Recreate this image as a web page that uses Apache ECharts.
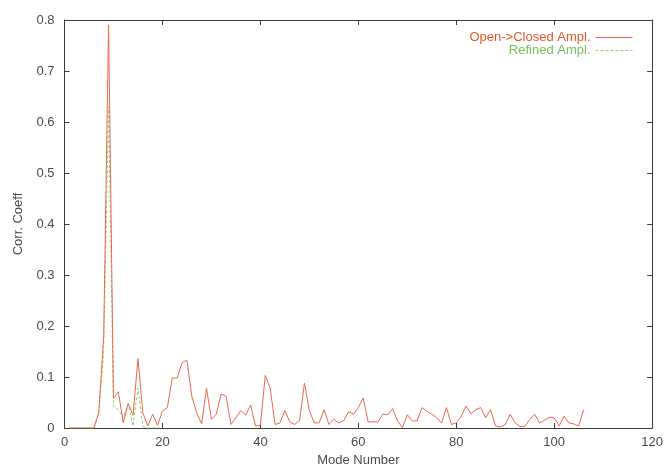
<!DOCTYPE html>
<html>
<head>
<meta charset="utf-8">
<script src="https://cdn.jsdelivr.net/npm/echarts@6/dist/echarts.min.js"></script>
<style>
  html, body { margin: 0; padding: 0; background: #fff; overflow: hidden; }
  #chart { width: 666px; height: 472px; }
</style>
</head>
<body>
<div id="chart"></div>
<script>
// Mode numbers 1..106
const modes = [];
for (let m = 1; m <= 106; m++) modes.push(m);

// Correlation coefficient, open -> closed amplitudes (modes 1..106)
const openClosed = [
  0, 0, 0, 0, 0, 0, 0.03, 0.18, 0.79, 0.058,
  0.071, 0.01, 0.048, 0.025, 0.136, 0.03, 0.004, 0.027, 0.005, 0.033,
  0.04, 0.098, 0.098, 0.128, 0.133, 0.062, 0.03, 0.008, 0.078, 0.017,
  0.027, 0.067, 0.062, 0.007, 0.02, 0.034, 0.025, 0.045, 0.004, 0.005,
  0.103, 0.078, 0.007, 0.01, 0.034, 0.012, 0.007, 0.015, 0.088, 0.034,
  0.01, 0.01, 0.036, 0.007, 0.017, 0.01, 0.014, 0.032, 0.027, 0.04,
  0.059, 0.012, 0.012, 0.012, 0.027, 0.026, 0.038, 0.014, 0.001, 0.026,
  0.014, 0.014, 0.04, 0.033, 0.027, 0.02, 0.01, 0.04, 0.007, 0.01,
  0.023, 0.043, 0.028, 0.036, 0.04, 0.02, 0.036, 0.004, 0.002, 0.007,
  0.027, 0.01, 0.003, 0.003, 0.017, 0.027, 0.01, 0.015, 0.021, 0.02,
  0.004, 0.023, 0.01, 0.008, 0.004, 0.036
];

// Correlation coefficient, refined amplitudes (modes 1..20)
const refined = [
  0, 0, 0, 0, 0, 0, 0.03, 0.15, 0.63, 0.042,
  0.036, 0.02, 0.047, 0.004, 0.078, 0.003, 0, 0, 0, 0
];

const xTicks = [0, 20, 40, 60, 80, 100, 120];
const yTicks = [0, 0.1, 0.2, 0.3, 0.4, 0.5, 0.6, 0.7, 0.8];

const openData = modes.map((m, i) => [m, openClosed[i]]);
const refinedData = refined.map((v, i) => [modes[i], v]);

const axisColor = '#3a3a3a';
const fontFamily = 'Liberation Sans, Arial, sans-serif';
const labelFont = { color: '#4a4a4a', fontSize: 13, fontFamily: fontFamily };

// plain box edge with inward ticks (top and right mirrors)
function mirrorAxis(extra) {
  return Object.assign({
    type: 'value',
    axisLine: { show: true, onZero: false, lineStyle: { color: axisColor, width: 1 } },
    axisTick: { show: true, inside: true, length: 5, lineStyle: { color: axisColor } },
    axisLabel: { show: false },
    splitLine: { show: false }
  }, extra);
}

const chart = echarts.init(document.getElementById('chart'), null, { renderer: 'canvas', width: 666, height: 472 });
chart.setOption({
  animation: false,
  backgroundColor: '#fff',
  grid: { left: 64.5, top: 20, width: 590, height: 412, containLabel: false },
  legend: {
    orient: 'vertical',
    right: 28,
    top: 26,
    align: 'right',
    itemWidth: 37,
    itemHeight: 10,
    itemGap: 0,
    itemStyle: { opacity: 0 },
    lineStyle: { width: 1 },
    textStyle: { fontSize: 13, lineHeight: 12, fontFamily: fontFamily },
    data: [
      { name: 'Open->Closed Ampl.', textStyle: { color: '#e4572e' } },
      { name: 'Refined Ampl.', textStyle: { color: '#78c05a' } }
    ]
  },
  xAxis: [
    {
      type: 'value', min: xTicks[0], max: xTicks[xTicks.length - 1], interval: 20,
      name: 'Mode Number', nameLocation: 'middle', nameGap: 26,
      nameTextStyle: labelFont,
      axisLine: { show: true, onZero: false, lineStyle: { color: axisColor, width: 1 } },
      axisTick: { show: true, inside: true, length: 5, lineStyle: { color: axisColor } },
      axisLabel: Object.assign({ margin: 8 }, labelFont),
      splitLine: { show: false }
    },
    mirrorAxis({ position: 'top', min: xTicks[0], max: xTicks[xTicks.length - 1], interval: 20 })
  ],
  yAxis: [
    {
      type: 'value', min: yTicks[0], max: yTicks[yTicks.length - 1], interval: 0.1,
      name: 'Corr. Coeff', nameLocation: 'middle', nameGap: 40, nameRotate: 90,
      nameTextStyle: labelFont,
      axisLine: { show: true, onZero: false, lineStyle: { color: axisColor, width: 1 } },
      axisTick: { show: true, inside: true, length: 5, lineStyle: { color: axisColor } },
      axisLabel: Object.assign({ margin: 10, formatter: v => String(Math.round(v * 10) / 10) }, labelFont),
      splitLine: { show: false }
    },
    mirrorAxis({ position: 'right', min: yTicks[0], max: yTicks[yTicks.length - 1], interval: 0.1 })
  ],
  series: [
    {
      name: 'Refined Ampl.', type: 'line', data: refinedData,
      symbol: 'none', z: 2,
      lineStyle: { color: '#8fcf73', width: 1, type: [3, 2] },
      itemStyle: { color: '#8fcf73' }
    },
    {
      name: 'Open->Closed Ampl.', type: 'line', data: openData,
      symbol: 'none', z: 3,
      lineStyle: { color: '#e8694a', width: 1 },
      itemStyle: { color: '#e8694a' }
    }
  ]
});
</script>
</body>
</html>
